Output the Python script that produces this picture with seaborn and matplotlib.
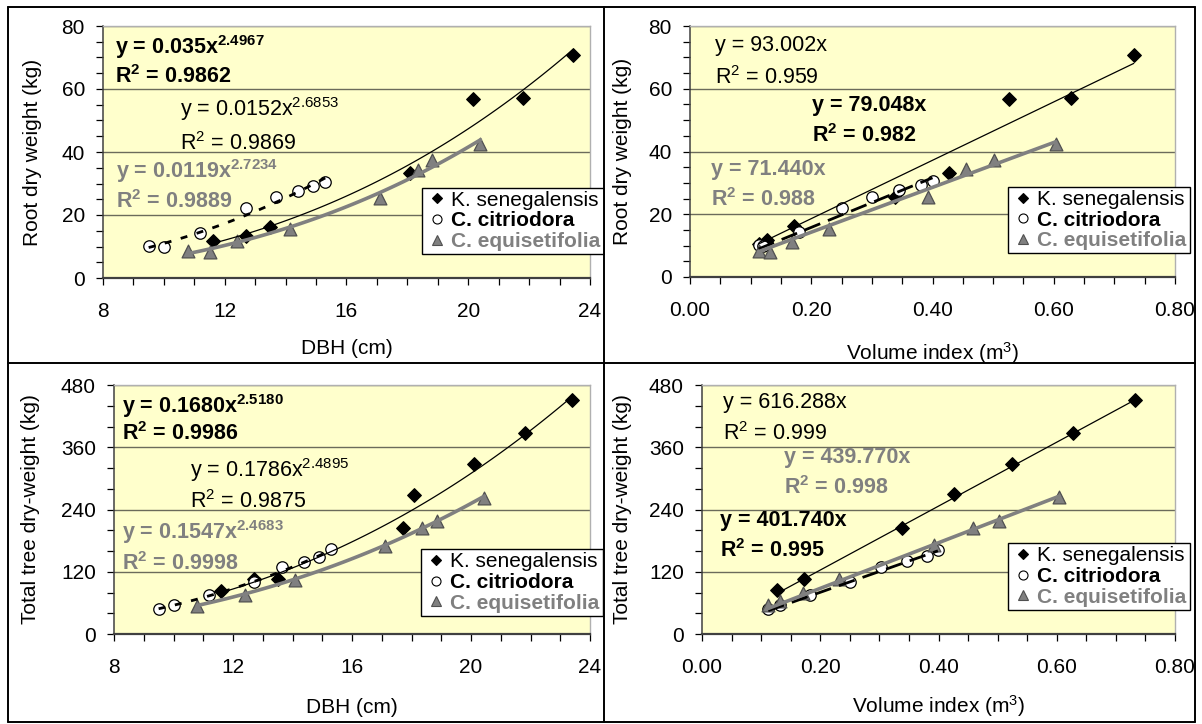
import numpy as np
import pandas as pd
import seaborn as sns
import matplotlib.pyplot as plt
from matplotlib.lines import Line2D
from matplotlib.patches import Rectangle
from matplotlib.ticker import MultipleLocator, FormatStrFormatter

sns.set_theme(style="white")
plt.rcParams["font.family"] = ["Liberation Sans", "DejaVu Sans"]
plt.rcParams["mathtext.fontset"] = "custom"
plt.rcParams["mathtext.rm"] = "Liberation Sans"
plt.rcParams["mathtext.it"] = "Liberation Sans:italic"
plt.rcParams["mathtext.bf"] = "Liberation Sans:bold"

#########################
# data
#########################
species = ["K. senegalensis", "C. citriodora", "C. equisetifolia"]

# root dry weight vs DBH
rd_ks_x = [11.6, 12.7, 13.5, 18.1, 20.15, 21.8, 23.45]
rd_ks_y = [11.8, 13.4, 16.1, 33.3, 56.7, 57.0, 70.8]
rd_cc_x = [9.5, 10.0, 11.2, 12.7, 13.7, 14.4, 14.9, 15.3]
rd_cc_y = [10.2, 10.0, 14.2, 22.1, 25.6, 27.6, 29.3, 30.5]
rd_ce_x = [10.8, 11.5, 12.4, 14.15, 17.1, 18.35, 18.8, 20.4]
rd_ce_y = [8.6, 8.2, 11.6, 15.4, 25.5, 34.4, 37.4, 42.4]

# root dry weight vs volume index
rv_ks_x = [0.113, 0.127, 0.172, 0.338, 0.427, 0.526, 0.628, 0.732]
rv_ks_y = [10.5, 11.9, 16.1, 25.4, 33.3, 56.7, 57.0, 70.9]
rv_cc_x = [0.113, 0.12, 0.18, 0.251, 0.301, 0.345, 0.381, 0.40]
rv_cc_y = [10.3, 10.0, 14.3, 22.0, 25.5, 27.7, 29.4, 30.5]
rv_ce_x = [0.113, 0.132, 0.169, 0.229, 0.392, 0.456, 0.501, 0.603]
rv_ce_y = [8.3, 8.0, 11.3, 15.3, 25.4, 34.3, 37.4, 42.4]

# total tree dry weight vs DBH
td_ks_x = [11.6, 12.7, 13.5, 17.7, 18.1, 20.1, 21.8, 23.4]
td_ks_y = [83, 106, 106, 205, 267, 328, 387, 452]
td_cc_x = [9.5, 10.0, 11.2, 12.7, 13.65, 14.4, 14.9, 15.3]
td_cc_y = [49, 56, 75, 100, 129, 139, 149, 163]
td_ce_x = [10.8, 12.4, 14.1, 17.1, 18.35, 18.85, 20.45]
td_ce_y = [54, 76, 104, 170, 204, 218, 263]

# total tree dry weight vs volume index
tv_ks_x = [0.127, 0.172, 0.338, 0.426, 0.525, 0.627, 0.732]
tv_ks_y = [84, 106, 205, 269, 328, 387, 452]
tv_cc_x = [0.112, 0.132, 0.182, 0.25, 0.302, 0.346, 0.381, 0.399]
tv_cc_y = [48, 56, 75, 101, 129, 140, 150, 162]
tv_ce_x = [0.112, 0.132, 0.17, 0.231, 0.393, 0.458, 0.503, 0.604]
tv_ce_y = [55, 63, 80, 106, 171, 205, 218, 264]

# trendline coefficients as printed (ks, cc, ce)
rd_a = ["0.0152", "0.035", "0.0119"]
rd_b = ["2.6853", "2.4967", "2.7234"]
rd_r2 = ["0.9869", "0.9862", "0.9889"]
rv_a = ["93.002", "79.048", "71.440"]
rv_r2 = ["0.959", "0.982", "0.988"]
td_a = ["0.1786", "0.1680", "0.1547"]
td_b = ["2.4895", "2.5180", "2.4683"]
td_r2 = ["0.9875", "0.9986", "0.9998"]
tv_a = ["616.288", "401.740", "439.770"]
tv_r2 = ["0.999", "0.995", "0.998"]

#########################
# styles
#########################
GRAY = "#808080"
FS = 15
EQ_FS = 15.5
sty = {
    "K. senegalensis": dict(marker="D", color="black", ec="black", s=48, tc="black", bold=False),
    "C. citriodora": dict(marker="o", color="white", ec="black", s=68, tc="black", bold=True),
    "C. equisetifolia": dict(marker="^", color=GRAY, ec="#505050", s=85, tc=GRAY, bold=True),
}

W, H = 1202, 724
fig = plt.figure(figsize=(W / 100, H / 100), dpi=100)


def px_axes(l, t, r, b):
    return fig.add_axes([l / W, 1 - b / H, (r - l) / W, (b - t) / H])


def eq_text(a, b=None, bold=False):
    if b is None:
        return "y = " + a + "x"
    sup = r"$^{\mathbf{" + b + "}}$" if bold else "$^{" + b + "}$"
    return "y = " + a + "x" + sup


def r2_text(r, bold=False):
    sup = r"$^{\mathbf{2}}$" if bold else "$^{2}$"
    return "R" + sup + " = " + r


def panel(ax, xs, ys, a, b, r2, dash, xlim, ylim, xmaj, xmin, ymaj, ymin, xfmt,
          xlabel, ylabel, ylab_x, xlab_y, txt_pos, leg_pos):
    ax.set_facecolor("#FFFFCC")
    for sp, x, y in zip(species, xs, ys):
        st = sty[sp]
        sns.scatterplot(x=x, y=y, ax=ax, marker=st["marker"], color=st["color"],
                        edgecolor=st["ec"], linewidth=0.9, s=st["s"], zorder=3)
    # trend lines
    for i, sp in enumerate(species):
        xx = np.linspace(min(xs[i]), max(xs[i]), 80)
        if b is None:
            yy = float(a[i]) * xx
        else:
            yy = float(a[i]) * xx ** float(b[i])
        if i == 0:
            kw = dict(color="black", lw=0.9)
        elif i == 1:
            kw = dict(color="black", lw=2.0, linestyle=dash)
        else:
            kw = dict(color=GRAY, lw=2.6)
        sns.lineplot(x=xx, y=yy, ax=ax, estimator=None, sort=False, zorder=4, **kw)

    # equation labels
    for i, sp in enumerate(species):
        st = sty[sp]
        tx, ty1, ty2 = txt_pos[i]
        bb = None if b is None else b[i]
        fw = "bold" if st["bold"] else "normal"
        ax.text(tx, ty1, eq_text(a[i], bb, st["bold"]), transform=ax.transAxes,
                color=st["tc"], fontsize=EQ_FS, fontweight=fw, va="center", ha="left", zorder=6)
        ax.text(tx, ty2, r2_text(r2[i], st["bold"]), transform=ax.transAxes,
                color=st["tc"], fontsize=EQ_FS, fontweight=fw, va="center", ha="left", zorder=6)

    ax.set_xlim(*xlim)
    ax.set_ylim(*ylim)
    ax.xaxis.set_major_locator(MultipleLocator(xmaj))
    ax.xaxis.set_minor_locator(MultipleLocator(xmin))
    ax.yaxis.set_major_locator(MultipleLocator(ymaj))
    ax.yaxis.set_minor_locator(MultipleLocator(ymin))
    ax.xaxis.set_major_formatter(FormatStrFormatter(xfmt))
    ax.tick_params(which="both", direction="out", length=5, width=0.9, color="black",
                   bottom=True, left=True, labelsize=FS, labelcolor="black")
    ax.tick_params(axis="x", which="both", pad=12)
    ax.tick_params(axis="y", which="both", pad=8)
    ax.yaxis.grid(True, which="major", color="#6b6b5b", lw=1)
    ax.xaxis.grid(False)
    ax.set_axisbelow(True)
    for s in ["top", "right"]:
        ax.spines[s].set_color("#b0b0b0")
        ax.spines[s].set_linewidth(1)
    ax.spines["left"].set_color("#404040")
    ax.spines["left"].set_linewidth(1.1)
    ax.spines["bottom"].set_color("#404040")
    ax.spines["bottom"].set_linewidth(1.6)

    ax.set_xlabel(xlabel, fontsize=FS, color="black")
    ax.set_ylabel(ylabel, fontsize=FS, color="black")
    ax.yaxis.set_label_coords(ylab_x, 0.5)
    ax.xaxis.set_label_coords(0.5, xlab_y)

    handles = [Line2D([], [], linestyle="none", marker=sty[sp]["marker"],
                      markerfacecolor=sty[sp]["color"], markeredgecolor=sty[sp]["ec"],
                      markersize=6.5 if sp != "K. senegalensis" else 5.5, markeredgewidth=0.8)
               for sp in species]
    leg = ax.legend(handles, species, loc="upper left", bbox_to_anchor=leg_pos,
                    fontsize=FS, frameon=True, fancybox=False, framealpha=1,
                    edgecolor="black", borderpad=0.15, labelspacing=0.08,
                    handlelength=1.1, handletextpad=0.15, borderaxespad=0)
    leg.get_frame().set_linewidth(1)
    for t, sp in zip(leg.get_texts(), species):
        t.set_color(sty[sp]["tc"])
        t.set_fontweight("bold" if sty[sp]["bold"] else "normal")
    leg.set_zorder(7)


ax1 = px_axes(103, 26, 590, 278)
ax2 = px_axes(690, 26, 1175, 277)
ax3 = px_axes(114, 385, 590, 634)
ax4 = px_axes(702, 385, 1175, 634)

dbh_dash = (0, (2.5, 3.5))
vol_dash = (0, (6, 3))

panel(ax1, [rd_ks_x, rd_cc_x, rd_ce_x], [rd_ks_y, rd_cc_y, rd_ce_y], rd_a, rd_b, rd_r2,
      dbh_dash, (8, 24), (0, 80), 4, 1, 20, 5, "%d",
      "DBH (cm)", "Root dry weight (kg)", -0.125, -0.242,
      [(0.159, 0.672, 0.535), (0.025, 0.918, 0.80), (0.027, 0.426, 0.302)], (0.655, 0.359))
panel(ax2, [rv_ks_x, rv_cc_x, rv_ce_x], [rv_ks_y, rv_cc_y, rv_ce_y], rv_a, None, rv_r2,
      vol_dash, (0, 0.8), (0, 80), 0.2, 0.05, 20, 5, "%.2f",
      "Volume index (m$^{3}$)", "Root dry weight (kg)", -0.12, -0.25,
      [(0.052, 0.922, 0.795), (0.252, 0.682, 0.565), (0.044, 0.428, 0.309)], (0.656, 0.359))
panel(ax3, [td_ks_x, td_cc_x, td_ce_x], [td_ks_y, td_cc_y, td_ce_y], td_a, td_b, td_r2,
      dbh_dash, (8, 24), (0, 480), 4, 1, 120, 40, "%d",
      "DBH (cm)", "Total tree dry-weight (kg)", -0.155, -0.258,
      [(0.16, 0.657, 0.533), (0.016, 0.917, 0.804), (0.016, 0.411, 0.284)], (0.645, 0.341))
panel(ax4, [tv_ks_x, tv_cc_x, tv_ce_x], [tv_ks_y, tv_cc_y, tv_ce_y], tv_a, None, tv_r2,
      vol_dash, (0, 0.8), (0, 480), 0.2, 0.05, 120, 40, "%.2f",
      "Volume index (m$^{3}$)", "Total tree dry-weight (kg)", -0.148, -0.238,
      [(0.045, 0.931, 0.807), (0.039, 0.455, 0.335), (0.173, 0.708, 0.587)], (0.647, 0.365))

# left panels below, right panels above, mask in between clips the left legends
ax1.set_zorder(1)
ax3.set_zorder(1)
ax2.set_zorder(3)
ax4.set_zorder(3)
for (t, b) in [(170, 290), (530, 640)]:
    fig.add_artist(Rectangle((605 / W, 1 - b / H), 80 / W, (b - t) / H,
                             transform=fig.transFigure, facecolor="white",
                             edgecolor="none", zorder=2))


# panel frame
def fline(x0, y0, x1, y1):
    fig.add_artist(Line2D([x0 / W, x1 / W], [1 - y0 / H, 1 - y1 / H], transform=fig.transFigure,
                          color="black", lw=1.4, zorder=10))


fline(8, 7, 1195, 7)
fline(8, 722, 1195, 722)
fline(8, 7, 8, 722)
fline(1195, 7, 1195, 722)
fline(604, 7, 604, 722)
fline(8, 363, 1195, 363)

fig.savefig("out.png", dpi=100)
